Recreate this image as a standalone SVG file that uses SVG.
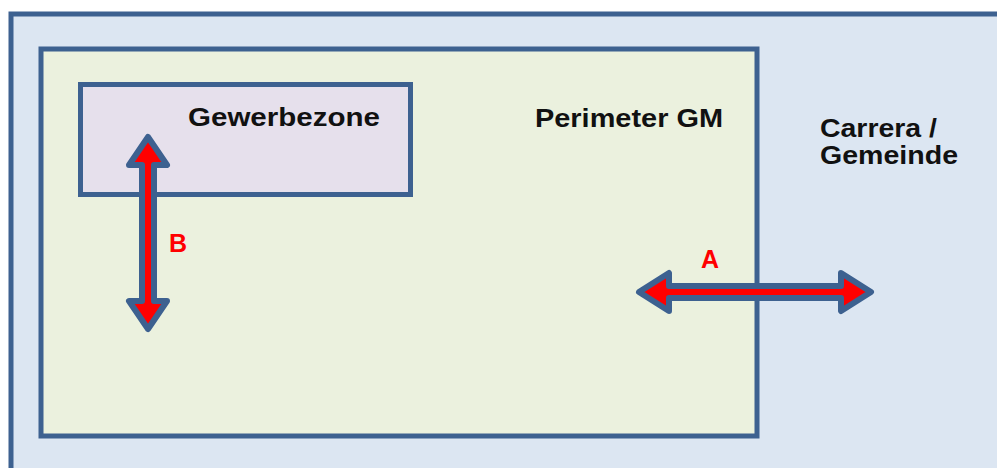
<svg xmlns="http://www.w3.org/2000/svg" width="997" height="468" viewBox="0 0 997 468">
<style>
.box{stroke:#3d6190;stroke-width:5}
.lbl{font-family:"Liberation Sans",Arial,sans-serif;font-weight:bold;font-size:25px;fill:#111}
.red{font-family:"Liberation Sans",Arial,sans-serif;font-weight:bold;font-size:25px;fill:#ff0000}
.arrow{fill:#ff0000;stroke:#3d6190;stroke-width:6;stroke-linejoin:round}
</style>
<rect width="997" height="468" fill="#ffffff"/>
<g id="carrera">
<rect class="box" x="11" y="14" width="1000" height="470" fill="#dce6f2"/>
<text class="lbl" x="820" y="137" textLength="117" lengthAdjust="spacingAndGlyphs">Carrera /</text>
<text class="lbl" x="820" y="164" textLength="138" lengthAdjust="spacingAndGlyphs">Gemeinde</text>
</g>
<g id="perimeter">
<rect class="box" x="41" y="49" width="716" height="387" fill="#ebf1de"/>
<text class="lbl" x="535" y="127" textLength="188" lengthAdjust="spacingAndGlyphs">Perimeter GM</text>
</g>
<g id="gewerbezone">
<rect class="box" x="80.5" y="84.5" width="330" height="110" fill="#e6e0ec"/>
<text class="lbl" x="188" y="126" textLength="192" lengthAdjust="spacingAndGlyphs">Gewerbezone</text>
</g>
<g id="connectors">
<polygon class="arrow" points="148,137 167,165 154,165 154,301 167,301 148,329 129,301 142,301 142,165 129,165"/>
<polygon class="arrow" points="639,292 669,273 669,286 841,286 841,273 871,292 841,311 841,298 669,298 669,311"/>
<text class="red" x="169" y="252">B</text>
<text class="red" x="701" y="268">A</text>
</g>
</svg>
